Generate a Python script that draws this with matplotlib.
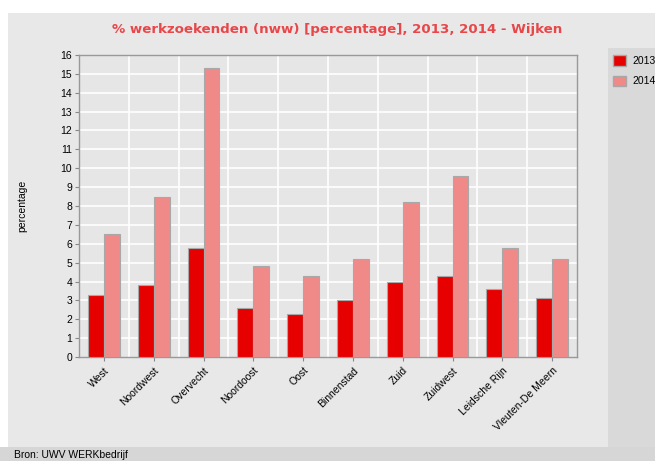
# % werkzoekenden per wijk, 2013 en 2014
import numpy as np
import matplotlib.pyplot as plt
from matplotlib.patches import Rectangle, Patch

wijken = ["West", "Noordwest", "Overvecht", "Noordoost", "Oost", "Binnenstad",
          "Zuid", "Zuidwest", "Leidsche Rijn", "Vleuten-De Meern"]
waarden2013 = [3.3, 3.8, 5.8, 2.6, 2.3, 3.0, 4.0, 4.3, 3.6, 3.1]
waarden2014 = [6.5, 8.5, 15.3, 4.8, 4.3, 5.2, 8.2, 9.6, 5.8, 5.2]
jaren = ["2013", "2014"]

kleur2013 = "#e60000"
kleur2014 = "#f08a88"
W, H = 655, 461

plt.rcParams['font.family'] = ['Liberation Sans', 'DejaVu Sans']

fig = plt.figure(figsize=(W / 100, H / 100), dpi=100)
fig.patch.set_facecolor("white")

# achtergrondvlakken (pixels -> figuur coordinaten)
def vlak(x0, y0, x1, y1, kleur):
    fig.patches.append(Rectangle((x0 / W, 1 - y1 / H), (x1 - x0) / W, (y1 - y0) / H,
                                 transform=fig.transFigure, facecolor=kleur,
                                 edgecolor="none", zorder=-10))

vlak(8, 13, W, 447, "#e8e8e8")
vlak(608, 48, W, 447, "#d9d9d9")
vlak(0, 447, W, H, "#d6d6d6")

ax = fig.add_axes([79 / W, 1 - 357 / H, 498 / W, 302 / H])
ax.set_facecolor("#e6e6e6")

x = np.arange(len(wijken))
breedte = 0.32
ax.bar(x - breedte / 2, waarden2013, breedte, color=kleur2013, edgecolor="#a8a8a8", linewidth=0.8, zorder=3)
ax.bar(x + breedte / 2, waarden2014, breedte, color=kleur2014, edgecolor="#a8a8a8", linewidth=0.8, zorder=3)

ax.set_xlim(-0.5, len(wijken) - 0.5)
ax.set_ylim(0, 16)
ax.set_yticks(range(0, 17))
ax.set_xticks(x)
ax.set_xticklabels(wijken, rotation=45, ha="right", rotation_mode="anchor", fontsize=7.5)
ax.tick_params(axis="y", labelsize=7.5, length=3, color="#888888", pad=2)
ax.tick_params(axis="x", length=3, color="#888888", pad=3)

# rasterlijnen: horizontaal op elke eenheid, verticaal tussen de wijken
for yy in range(1, 16):
    ax.axhline(yy, color="white", linewidth=1.2, zorder=1)
for xx in x[:-1] + 0.5:
    ax.axvline(xx, color="white", linewidth=1.2, zorder=1)

for s in ax.spines.values():
    s.set_color("#999999")
    s.set_linewidth(1.0)

ax.set_ylabel("percentage", fontsize=7.5, labelpad=24)

fig.text(337 / W, 1 - 30 / H, "% werkzoekenden (nww) [percentage], 2013, 2014 - Wijken",
         ha="center", va="center", color="#e8474a", fontsize=9.6, fontweight="bold",
         family="DejaVu Sans")
fig.text(14 / W, 1 - 455 / H, "Bron: UWV WERKbedrijf", ha="left", va="center", fontsize=7.5)

handles = [Patch(facecolor=kleur2013, edgecolor="#a8a8a8"),
           Patch(facecolor=kleur2014, edgecolor="#a8a8a8")]
fig.legend(handles, jaren, loc="upper left", bbox_to_anchor=(605 / W, 1 - 47 / H),
           frameon=False, fontsize=7.5, handlelength=1.2, handleheight=1.2,
           handletextpad=0.6, labelspacing=0.9, borderpad=0.3)

plt.savefig("out.png", dpi=100)
